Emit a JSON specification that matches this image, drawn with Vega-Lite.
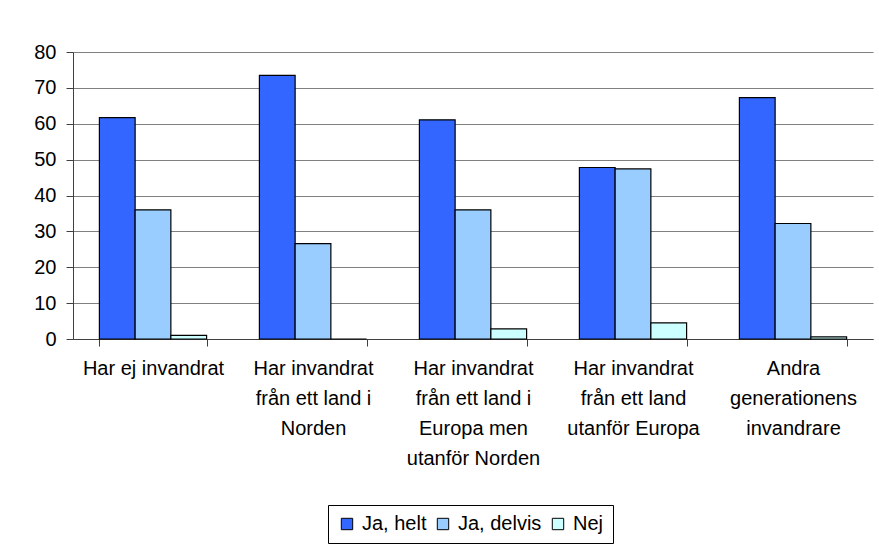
{
  "$schema": "https://vega.github.io/schema/vega-lite/v6.json",
  "width": 800,
  "height": 287,
  "autosize": {"type": "none"},
  "padding": {"left": 73, "top": 52, "right": 6, "bottom": 210},
  "background": "white",
  "data": {"values": [
    {"grupp": "Har ej invandrat", "svar": "Ja, helt", "andel": 61.7},
    {"grupp": "Har ej invandrat", "svar": "Ja, delvis", "andel": 36.0},
    {"grupp": "Har ej invandrat", "svar": "Nej", "andel": 1.0},
    {"grupp": "Har invandrat från ett land i Norden", "svar": "Ja, helt", "andel": 73.5},
    {"grupp": "Har invandrat från ett land i Norden", "svar": "Ja, delvis", "andel": 26.6},
    {"grupp": "Har invandrat från ett land i Norden", "svar": "Nej", "andel": 0},
    {"grupp": "Har invandrat från ett land i Europa men utanför Norden", "svar": "Ja, helt", "andel": 61.1},
    {"grupp": "Har invandrat från ett land i Europa men utanför Norden", "svar": "Ja, delvis", "andel": 36.0},
    {"grupp": "Har invandrat från ett land i Europa men utanför Norden", "svar": "Nej", "andel": 2.8},
    {"grupp": "Har invandrat från ett land utanför Europa", "svar": "Ja, helt", "andel": 47.8},
    {"grupp": "Har invandrat från ett land utanför Europa", "svar": "Ja, delvis", "andel": 47.4},
    {"grupp": "Har invandrat från ett land utanför Europa", "svar": "Nej", "andel": 4.5},
    {"grupp": "Andra generationens invandrare", "svar": "Ja, helt", "andel": 67.3},
    {"grupp": "Andra generationens invandrare", "svar": "Ja, delvis", "andel": 32.2},
    {"grupp": "Andra generationens invandrare", "svar": "Nej", "andel": 0.6}
  ]},
  "mark": {"type": "bar", "stroke": "black", "strokeWidth": 1.2},
  "encoding": {
    "x": {
      "field": "grupp", "type": "nominal", "sort": null,
      "scale": {"paddingInner": 0.33, "paddingOuter": 0.165},
      "axis": {
        "title": null, "labelAngle": 0, "tickBand": "extent",
        "domainColor": "#404040", "tickColor": "#404040", "tickSize": 7,
        "labelPadding": 12, "labelFont": "Liberation Sans", "labelFontSize": 20,
        "labelColor": "black", "labelLineHeight": 30, "labelLimit": 0,
        "labelExpr": "datum.value == 'Har ej invandrat' ? ['Har ej invandrat'] : datum.value == 'Har invandrat från ett land i Norden' ? ['Har invandrat', 'från ett land i', 'Norden'] : datum.value == 'Har invandrat från ett land i Europa men utanför Norden' ? ['Har invandrat', 'från ett land i', 'Europa men', 'utanför Norden'] : datum.value == 'Har invandrat från ett land utanför Europa' ? ['Har invandrat', 'från ett land', 'utanför Europa'] : datum.value == 'Andra generationens invandrare' ? ['Andra', 'generationens', 'invandrare'] : ''"
      }
    },
    "xOffset": {"field": "svar", "type": "nominal", "sort": ["Ja, helt", "Ja, delvis", "Nej"], "scale": {"paddingInner": 0, "paddingOuter": 0}},
    "y": {
      "field": "andel", "type": "quantitative",
      "scale": {"domain": [0, 80], "nice": false},
      "axis": {
        "title": null, "values": [0, 10, 20, 30, 40, 50, 60, 70, 80],
        "gridColor": "#808080", "gridWidth": 1.2, "domainColor": "#404040",
        "tickColor": "#404040", "tickSize": 7, "labelPadding": 10,
        "labelFont": "Liberation Sans", "labelFontSize": 20, "labelColor": "black"
      }
    },
    "color": {
      "field": "svar", "type": "nominal", "sort": ["Ja, helt", "Ja, delvis", "Nej"],
      "scale": {"domain": ["Ja, helt", "Ja, delvis", "Nej"], "range": ["#3366FF", "#99CCFF", "#CCFFFF"]},
      "legend": {
        "title": null, "orient": "none", "legendX": 255, "legendY": 453, "direction": "horizontal",
        "symbolType": "square", "symbolSize": 130, "symbolStrokeColor": "black",
        "symbolStrokeWidth": 1, "labelFont": "Liberation Sans", "labelFontSize": 20,
        "labelColor": "black", "columnPadding": 6, "labelOffset": 5,
        "strokeColor": "black", "fillColor": "white", "padding": 9
      }
    }
  },
  "config": {"view": {"stroke": null}}
}
